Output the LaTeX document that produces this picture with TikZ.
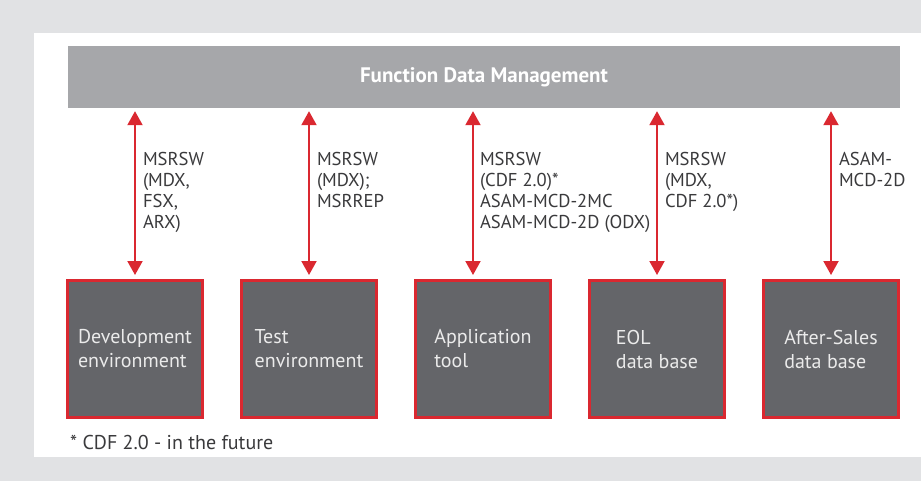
\documentclass[tikz,border=0pt]{standalone}
\usepackage{fontspec}
\setsansfont{PT Sans}
\usetikzlibrary{arrows.meta, positioning}
\definecolor{fdm_bar}{HTML}{A6A7AA}
\definecolor{fdm_box}{HTML}{646569}
\definecolor{fdm_red}{HTML}{DA2830}
\definecolor{fdm_page}{HTML}{E1E2E4}
\definecolor{fdm_text}{HTML}{3A3A3C}
\tikzset{
    >=Latex,
    font=\sffamily,
    fdm_bar/.style={
        rectangle,
        fill=fdm_bar,
        minimum width=832pt,
        minimum height=62pt,
        text=white,
        font=\sffamily\bfseries\fontsize{21}{24}\selectfont
    },
    fdm_tool/.style={
        rectangle,
        draw=fdm_red,
        fill=fdm_box,
        line width=3pt,
        minimum width=135pt,
        minimum height=137pt,
        inner sep=0pt,
        text=white!92!black,
        align=left,
        font=\sffamily\fontsize{20}{24}\selectfont
    },
    fdm_label/.style={
        inner sep=0pt,
        text=fdm_text,
        align=left,
        font=\sffamily\fontsize{18.6}{21}\selectfont
    },
    fdm_arrow/.style={
        {Triangle[length=14pt,width=15pt]}-{Triangle[length=14pt,width=15pt]},
        draw=fdm_red,
        fill=fdm_red,
        line width=2pt,
        shorten >=3pt,
        shorten <=4pt
    }
}

\begin{document}
\begin{tikzpicture}[x=1pt,y=-1pt]

% Page background
\fill[fdm_page] (0,0) rectangle (921,481);
\fill[white] (34,33) rectangle (921,457);
\useasboundingbox (0,0) rectangle (921,481);

% Function data management bar
\node[fdm_bar] (FDM) at (484,77) {Function Data Management};

% Tools
\node[fdm_tool] (Dev) at (135,349) {Development\\environment};
\node[fdm_tool, right=36pt of Dev] (Test) {Test\\environment};
\node[fdm_tool, right=36pt of Test] (App) {Application\\tool};
\node[fdm_tool, right=36pt of App] (EOL) {EOL\\data base};
\node[fdm_tool, right=36pt of EOL] (After) {After-Sales\\data base};

% Exchange formats
\draw[fdm_arrow] (Dev.north) -- (Dev.north |- FDM.south)
  node[fdm_label, pos=0.75, anchor=north west, xshift=7pt] (lblDev)
  {MSRSW\\(MDX,\\FSX,\\ARX)};
\draw[fdm_arrow] (Test.north) -- (Test.north |- FDM.south)
  node[fdm_label, pos=0.75, anchor=north west, xshift=7pt] (lblTest)
  {MSRSW\\(MDX);\\MSRREP};
\draw[fdm_arrow] ([xshift=-10pt]App.north) -- ([xshift=-10pt]App.north |- FDM.south)
  node[fdm_label, pos=0.75, anchor=north west, xshift=6pt] (lblApp)
  {MSRSW\\(CDF 2.0)*\\ASAM-MCD-2MC\\ASAM-MCD-2D (ODX)};
\draw[fdm_arrow] (EOL.north) -- (EOL.north |- FDM.south)
  node[fdm_label, pos=0.75, anchor=north west, xshift=7pt] (lblEOL)
  {MSRSW\\(MDX,\\CDF 2.0*)};
\draw[fdm_arrow] (After.north) -- (After.north |- FDM.south)
  node[fdm_label, pos=0.75, anchor=north west, xshift=7pt] (lblAfter)
  {ASAM-\\MCD-2D};

% Footnote
\node[fdm_label, font=\sffamily\fontsize{20}{24}\selectfont,
  below right=16pt and 4pt of Dev.south west] (note)
  {* CDF 2.0 - in the future};

\end{tikzpicture}
\end{document}
